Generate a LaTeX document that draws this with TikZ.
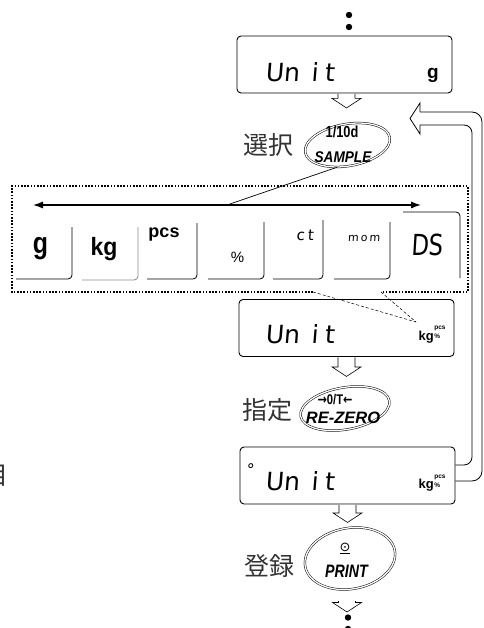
\documentclass[tikz,border=0pt]{standalone}
\usepackage{graphicx}
\usepackage{fontspec}
\setmainfont{Liberation Sans}
\newfontfamily\jpf{Noto Sans CJK JP}
\newfontfamily\segf[FakeSlant=0.08]{DejaVu Sans}
\newfontfamily\dvf{DejaVu Sans}
\usetikzlibrary{arrows.meta,calc,shapes.geometric}
\newcommand\sx[2]{\scalebox{#1}[1]{#2}}
\newcommand\kgpcs{{\bfseries\fontsize{13}{13}\selectfont kg}\hspace{0.6pt}\raisebox{1.5pt}{\bfseries\fontsize{6.5}{5.5}\selectfont\shortstack[l]{pcs\\\%}}}
\newcommand\unitseg{\makebox[18pt]{U}\makebox[16pt]{n}\hspace{9pt}\makebox[12pt]{i}\makebox[18pt]{t}}
\begin{document}
\begin{tikzpicture}[x=1pt,y=-1pt,
  disp/.style={draw, rounded corners=4pt, line width=0.9pt, minimum width=215pt, minimum height=57pt, inner sep=0pt},
  seg/.style={inner sep=0pt, font=\segf\fontsize{25}{25}\selectfont},
  txt/.style={inner sep=0pt},
  keyring/.style={draw, ellipse, double, double distance=1.3pt, line width=0.5pt, inner sep=0pt, rotate=10},
  jp/.style={inner sep=0pt, font=\jpf\fontsize{25}{25}\selectfont, text=black!80},
  tileln/.style={line width=0.8pt, rounded corners=4pt},
  hol/.style={draw, line width=0.6pt, fill=white, line join=miter},
  loopln/.style={line width=0.8pt},
  dashln/.style={line width=0.5pt, dash pattern=on 3pt off 2pt},
  dotrect/.style={line width=1.3pt, dash pattern=on 1.6pt off 1.6pt},
  pics/hdown/.style={code={\draw[hol] (-8.5,0.5) -- (-8.5,#1) -- (-14.5,#1) -- (0,#1+9.5) -- (14.5,#1) -- (8.5,#1) -- (8.5,0.5);}},
]
\useasboundingbox (0,0) rectangle (483,628);

% top dots
\fill (349,15) circle[radius=3.2pt];
\fill (349,27) circle[radius=3.2pt];

% display 1
\node[disp] (d1) at (344.5,64.5) {};
\node[seg] (u1) at (302,72.5) {\unitseg};
\node[txt, font=\bfseries\fontsize{19}{19}\selectfont] (g1) at (433,75) {g};
\pic at ($(d1.south)+(2,0)$) {hdown=5};

% SAMPLE key
\node[keyring, minimum width=86pt, minimum height=42pt] (k1) at (347.5,145) {};
\node[txt, font=\bfseries\fontsize{16}{16}\selectfont] (t1a) at (342,132) {\sx{0.8}{1/10d}};
\node[txt, font=\bfseries\itshape\fontsize{15.5}{15.5}\selectfont] (t1b) at (343,157.5) {\sx{0.88}{SAMPLE}};
\node[jp] (j1) at (268,145) {選択};

% selection row
\coordinate (al) at (33,205);
\coordinate (ar) at (421,205);
\coordinate (mid) at (227,205);
\draw[line width=1.2pt, {Latex[length=10pt,width=7pt]}-{Latex[length=10pt,width=7pt]}] (al) -- (ar);
\draw[line width=0.7pt] (k1.235) -- (mid);

\draw[dotrect] (313,292) -- (12,292) -- (12,186) -- (468,186) -- (468,292) -- (381,292);

\draw[tileln] (16,279) -- (72,279) -- (72,227);
\draw[tileln, black!45] (82,280) -- (138,280) -- (138,227);
\draw[tileln] (147,279) -- (197,279) -- (197,223);
\draw[tileln] (208,279) -- (264,279) -- (264,222);
\draw[tileln] (273,279) -- (323,279) -- (323,220);
\draw[tileln] (334,279) -- (390,279) -- (390,222);
\draw[tileln] (403,212) -- (460,212) -- (460,278);

\node[txt, font=\bfseries\fontsize{30}{30}\selectfont] (tg) at (40.5,249) {\sx{0.83}{g}};
\node[txt, font=\bfseries\fontsize{25}{25}\selectfont] (tkg) at (104,249.5) {\sx{0.92}{kg}};
\node[txt, font=\bfseries\fontsize{18}{18}\selectfont] (tpcs) at (164,234.5) {pcs};
\node[txt, font=\fontsize{15}{15}\selectfont] (tpct) at (237.5,257.5) {\%};
\node[seg, font=\segf\fontsize{15}{15}\selectfont] (tct) at (305,235) {c\hspace{3pt}t};
\node[seg, font=\segf\fontsize{11}{11}\selectfont] (tmom) at (364,238) {m\hspace{2pt}o\hspace{2pt}m};
\node[seg, font=\segf\fontsize{29}{29}\selectfont] (tds) at (427,244.5) {\sx{0.78}{DS}};

% display 2
\node[disp] (d2) at (346.5,328) {};
\node[seg] (u2) at (302,334) {\unitseg};
\node[txt] (i2) at (432,334.5) {\kgpcs};
\coordinate (cv) at (416,322);
\draw[dashln] (313,292) -- (cv);
\draw[dashln] (381,292) -- (cv);
\pic at (d2.south) {hdown=10};

% RE-ZERO key
\node[keyring, minimum width=90pt, minimum height=42pt] (k2) at (345,408.5) {};
\node[txt, font=\bfseries\fontsize{14}{14}\selectfont] (t2a) at (335,400) {\sx{0.8}{{\dvf\bfseries →}0/T{\dvf\bfseries ←}}};
\node[txt, font=\bfseries\itshape\fontsize{16.5}{16.5}\selectfont] (t2b) at (343,418) {RE-ZERO};
\node[jp] (j2) at (267.5,410) {指定};

% display 3
\node[disp] (d3) at (347.5,475.5) {};
\node[seg, font=\segf\fontsize{16}{16}\selectfont] (deg) at (250,470) {°};
\node[seg] (u3) at (302,481.5) {\unitseg};
\node[txt] (i3) at (432,483) {\kgpcs};
\pic at (d3.south) {hdown=8.5};

% return loop
\coordinate (li) at ($(d3.east)+(0,-10.5)$);
\coordinate (lo) at ($(d3.east)+(0,5.5)$);
\draw[loopln, rounded corners=8pt] (li) -- (472,465) -- (472,125) -- (420,125);
\draw[loopln, rounded corners=10pt] (lo) -- (482,481) -- (482,112) -- (420,112);
\draw[loopln, line join=miter] (420,112) -- (420,103) -- (410,118.5) -- (420,134) -- (420,125);

% PRINT key
\node[keyring, minimum width=91pt, minimum height=61pt] (k3) at (350,558.5) {};
\node[txt, font=\dvf\fontsize{13}{13}\selectfont] (t3a) at (345,548.5) {\underline{⊙}};
\node[txt, font=\bfseries\itshape\fontsize{18}{18}\selectfont] (t3b) at (346.5,571.5) {\sx{0.79}{PRINT}};
\node[jp] (j3) at (269,565.5) {登録};

\pic at (347,600.5) {hdown=2};
\fill (348,617.5) circle[radius=3.2pt];
\fill (348,629) circle[radius=3.2pt];

% cut-off character at left edge
\node[jp, anchor=east] (j4) at (8.5,476) {目};
\end{tikzpicture}
\end{document}
